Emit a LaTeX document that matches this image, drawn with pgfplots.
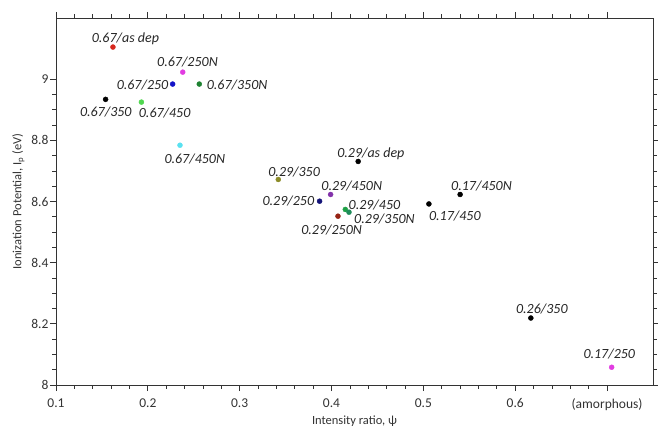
\documentclass[border=0pt]{standalone}
\usepackage{fontspec}
\setmainfont{Carlito}
\usepackage{pgfplots}
\pgfplotsset{compat=1.18}
\definecolor{cRed}{RGB}{215,40,30}
\definecolor{cMag}{RGB}{225,60,225}
\definecolor{cBlue}{RGB}{20,20,200}
\definecolor{cDkGreen}{RGB}{30,130,50}
\definecolor{cLtGreen}{RGB}{80,215,80}
\definecolor{cCyan}{RGB}{90,225,240}
\definecolor{cOlive}{RGB}{140,140,40}
\definecolor{cPurple}{RGB}{130,50,170}
\definecolor{cNavy}{RGB}{20,20,120}
\definecolor{cGreen}{RGB}{30,160,70}
\definecolor{cTeal}{RGB}{30,140,90}
\definecolor{cDkRed}{RGB}{150,35,20}
\begin{document}
\begin{tikzpicture}
\path[use as bounding box] (-56pt,-41pt) rectangle (602pt,385pt);
\begin{axis}[
 at={(0,0)}, anchor=south west,
 scale only axis, width=597pt, height=367pt,
 xmin=0.1, xmax=0.75, ymin=8, ymax=9.2,
 xtick={0.1,0.2,0.3,0.4,0.5,0.6,0.7},
 xticklabels={0.1,0.2,0.3,0.4,0.5,0.6,(amorphous)},
 ytick={8,8.2,8.4,8.6,8.8,9},
 yticklabels={8,8.2,8.4,8.6,8.8,9},
 minor x tick num=4, minor y tick num=3,
 tick align=outside,
 major tick length=6pt, minor tick length=3.5pt,
 ticklabel style={font=\fontsize{13.5}{15}\selectfont, text=black!80},
 xticklabel style={yshift=-4pt},
 yticklabel style={xshift=2pt},
 /pgf/number format/assume math mode=true,
 xlabel={Intensity ratio, ψ},
 ylabel={Ionization Potential, I\textsubscript{p} (eV)},
 label style={font=\fontsize{12.5}{15}\selectfont, text=black!80},
 xlabel style={yshift=2pt},
 axis line style={black!80, line width=0.9pt},
 every tick/.style={black!80, line width=0.8pt},
 clip=false,
 mark size=2.5pt,
 every axis plot/.append style={only marks, mark=*},
]
\addplot[cRed] coordinates {(0.162,9.105)};
\addplot[cMag] coordinates {(0.238,9.023)};
\addplot[cBlue] coordinates {(0.227,8.984)};
\addplot[cDkGreen] coordinates {(0.256,8.984)};
\addplot[black] coordinates {(0.154,8.934)};
\addplot[cLtGreen] coordinates {(0.193,8.925)};
\addplot[cCyan] coordinates {(0.235,8.784)};
\addplot[black] coordinates {(0.429,8.731)};
\addplot[cOlive] coordinates {(0.342,8.672)};
\addplot[cPurple] coordinates {(0.399,8.623)};
\addplot[cNavy] coordinates {(0.387,8.601)};
\addplot[cGreen] coordinates {(0.415,8.574)};
\addplot[cTeal] coordinates {(0.419,8.565)};
\addplot[cDkRed] coordinates {(0.407,8.552)};
\addplot[black] coordinates {(0.506,8.592)};
\addplot[black] coordinates {(0.540,8.623)};
\addplot[black] coordinates {(0.617,8.219)};
\addplot[cMag] coordinates {(0.705,8.058)};
\begin{scope}[every node/.style={font=\fontsize{14}{16}\selectfont\itshape, text=black!85, inner sep=0pt}]
\node at (axis cs:0.1756,9.131) {0.67/as dep};
\node at (axis cs:0.2432,9.055) {0.67/250N};
\node at (axis cs:0.1942,8.980) {0.67/250};
\node at (axis cs:0.2972,8.980) {0.67/350N};
\node at (axis cs:0.1542,8.892) {0.67/350};
\node at (axis cs:0.2183,8.889) {0.67/450};
\node at (axis cs:0.2511,8.738) {0.67/450N};
\node at (axis cs:0.3593,8.698) {0.29/350};
\node at (axis cs:0.4428,8.757) {0.29/as dep};
\node at (axis cs:0.4220,8.652) {0.29/450N};
\node at (axis cs:0.3530,8.600) {0.29/250};
\node at (axis cs:0.4467,8.590) {0.29/450};
\node at (axis cs:0.4576,8.544) {0.29/350N};
\node at (axis cs:0.4001,8.508) {0.29/250N};
\node at (axis cs:0.5343,8.554) {0.17/450};
\node at (axis cs:0.5633,8.652) {0.17/450N};
\node at (axis cs:0.6290,8.249) {0.26/350};
\node at (axis cs:0.7024,8.102) {0.17/250};
\end{scope}
\end{axis}
\end{tikzpicture}
\end{document}
